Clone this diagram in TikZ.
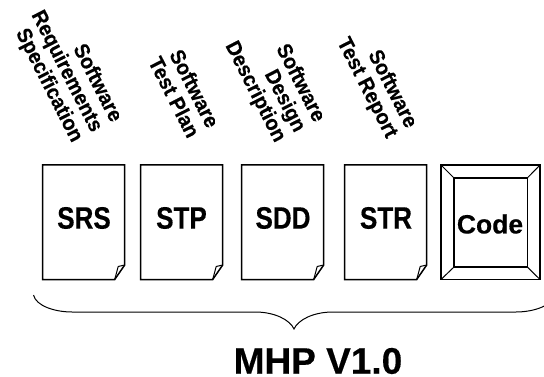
\documentclass[tikz,border=0pt]{standalone}
\usepackage{fontspec}
\setmainfont{Liberation Sans}
\newfontfamily\narrowbold{Liberation Sans Bold}[FakeStretch=0.84,FakeBold=0.4]
\newfontfamily\slantbold{Liberation Sans Bold}[FakeStretch=0.95,FakeBold=0.4]
\newfontfamily\plainbold{Liberation Sans Bold}[FakeBold=0.3]
\newcommand{\docshape}[1]{%
  \draw[docline] (#1,165) -- (#1+82,165) -- (#1+82,265) -- (#1+72,279.5) -- (#1,279.5) -- cycle;
  \draw[foldline] (#1+72,279.5) -- (#1+75.5,266.5) -- (#1+82,265);
}
\tikzset{
  docline/.style={line width=1.5pt, draw=black, fill=white, line join=miter},
  foldline/.style={line width=1pt, draw=black},
  bracestyle/.style={line width=1pt, draw=black},
  doclabel/.style={font=\narrowbold\fontsize{31}{34}\selectfont, inner sep=0pt},
  codelabel/.style={font=\plainbold\fontsize{26.5}{30}\selectfont, inner sep=0pt},
  titlelabel/.style={font=\plainbold\fontsize{37}{42}\selectfont, inner sep=0pt},
  slanted/.style={font=\slantbold\fontsize{21}{22}\selectfont, inner sep=0pt, align=right, rotate=-63, anchor=north east}
}
\begin{document}
\begin{tikzpicture}[x=1pt,y=-1pt]
\useasboundingbox (0,0) rectangle (544,377);
\clip (0,0) rectangle (544,377);
\docshape{42.7}
\docshape{140.7}
\docshape{241.7}
\docshape{344.7}
\draw[docline] (441,165) rectangle (540,279.5);
\draw[docline] (454,178) rectangle (527.3,267);
\draw[foldline] (441,165) -- (454,178) (540,165) -- (527.3,178) (441,279.5) -- (454,267) (540,279.5) -- (527.3,267);
\node[doclabel] (srs) at (84,218) {SRS};
\node[doclabel] (stp) at (181.5,218) {STP};
\node[doclabel] (sdd) at (283,218) {SDD};
\node[doclabel] (str) at (386,218) {STR};
\node[codelabel] (code) at (490,224) {Code};
\node[slanted] (t1) at (125,116.5) {Software\\Requirements\\Specification};
\node[slanted] (t2) at (221,122.5) {Software\\Test Plan};
\node[slanted] (t3) at (328,116.5) {Software\\Design\\Description};
\node[slanted] (t4) at (420,122.5) {Software\\Test Report};
\draw[bracestyle] (33.5,295) .. controls (36,306) and (55,312) .. (72,312)
  -- (255,312) .. controls (275,312) and (290,320) .. (294,329)
  .. controls (298,320) and (313,312) .. (333,312)
  -- (516,312) .. controls (533,312) and (552,306) .. (555,295);
\node[titlelabel] (mhp) at (318,361) {MHP V1.0};
\end{tikzpicture}
\end{document}
